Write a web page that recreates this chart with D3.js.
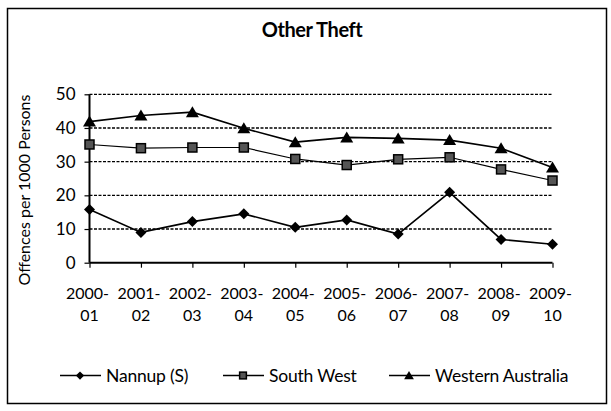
<!DOCTYPE html>
<html>
<head>
<meta charset="utf-8">
<script src="https://cdn.jsdelivr.net/npm/d3@7"></script>
<style>
  body { margin: 0; background: #fff; }
  text { font-family: Lato, "Open Sans", sans-serif; fill: #000; }
</style>
</head>
<body>
<div id="chart"></div>
<script>
var years = ["2000-01", "2001-02", "2002-03", "2003-04", "2004-05", "2005-06", "2006-07", "2007-08", "2008-09", "2009-10"];
var nannup = [15.8, 9.0, 12.2, 14.5, 10.5, 12.7, 8.5, 20.9, 6.9, 5.5];
var southWest = [35.1, 34.0, 34.2, 34.2, 30.8, 29.0, 30.7, 31.3, 27.7, 24.4];
var westernAustralia = [41.9, 43.7, 44.7, 39.9, 35.8, 37.2, 36.9, 36.4, 34.0, 28.3];
var yTicks = [0, 10, 20, 30, 40, 50];
var seriesNames = ["Nannup (S)", "South West", "Western Australia"];

var width = 611, height = 411;

var svg = d3.select("#chart").append("svg")
    .attr("width", width)
    .attr("height", height);

// outer frame
svg.append("rect")
    .attr("x", 7.5).attr("y", 8.5)
    .attr("width", 599).attr("height", 395)
    .attr("fill", "none")
    .attr("stroke", "#000")
    .attr("stroke-width", 1.5);

var x = d3.scalePoint()
    .domain(years)
    .range([89.5, 552.5]);

var y = d3.scaleLinear()
    .domain([0, 50])
    .range([262.7, 94.3]);

// title
svg.append("text")
    .attr("x", 312).attr("y", 37)
    .attr("text-anchor", "middle")
    .style("font-size", "20px")
    .style("font-weight", "bold")
    .style("letter-spacing", "-0.4px")
    .text("Other Theft");

// gridlines
svg.append("g")
    .selectAll("line")
    .data(yTicks.filter(function(d){ return d > 0; }))
    .enter().append("line")
    .attr("x1", 89.5).attr("x2", 553)
    .attr("y1", function(d){ return y(d); })
    .attr("y2", function(d){ return y(d); })
    .attr("stroke", "#000")
    .attr("stroke-width", 1.3)
    .attr("stroke-dasharray", "3,1.5");

// y axis
var yAxis = svg.append("g")
    .attr("transform", "translate(89.5,0)")
    .call(d3.axisLeft(y).tickValues(yTicks).tickSize(5).tickPadding(9));
yAxis.select(".domain").attr("stroke-width", 2).attr("d", "M0," + y(0) + "V" + y(50));
yAxis.selectAll(".tick line").attr("stroke-width", 1.2);
yAxis.selectAll(".tick text")
    .style("font-size", "17px")
    .style("font-family", "Lato, sans-serif")
    .attr("fill", "#000");

// x axis
var xAxis = svg.append("g")
    .attr("transform", "translate(0," + y(0) + ")")
    .call(d3.axisBottom(x).tickSize(5).tickFormat(""));
xAxis.select(".domain").attr("stroke-width", 2).attr("d", "M89.5,0H552.5");
xAxis.selectAll(".tick line").attr("stroke-width", 1.2);

var labels = svg.append("g").selectAll("text")
    .data(years)
    .enter().append("text")
    .attr("x", function(d){ return x(d); })
    .attr("text-anchor", "middle")
    .style("font-size", "16px");
labels.append("tspan")
    .attr("x", function(d){ return x(d) - 2; })
    .attr("y", 299)
    .text(function(d){ return d.slice(0, 5); });
labels.append("tspan")
    .attr("x", function(d){ return x(d); })
    .attr("y", 321)
    .text(function(d){ return d.slice(5); });

// y axis title
svg.append("text")
    .attr("transform", "translate(30,190) rotate(-90)")
    .attr("text-anchor", "middle")
    .style("font-size", "16px")
    .text("Offences per 1000 Persons");

var line = d3.line()
    .x(function(d, i){ return x(years[i]); })
    .y(function(d){ return y(d); });

function diamond(g, cx, cy, k) {
    k = k || 1;
    g.append("path")
        .attr("d", "M" + cx + "," + (cy - 5.5 * k) + "L" + (cx + 5.5 * k) + "," + cy + "L" + cx + "," + (cy + 5.5 * k) + "L" + (cx - 5.5 * k) + "," + cy + "Z")
        .attr("fill", "#000");
}
function square(g, cx, cy, k) {
    k = k || 1;
    g.append("rect")
        .attr("x", cx - 4.5 * k).attr("y", cy - 4.5 * k)
        .attr("width", 9 * k).attr("height", 9 * k)
        .attr("fill", "#555")
        .attr("stroke", "#000")
        .attr("stroke-width", 1.5);
}
function triangle(g, cx, cy, k) {
    k = k || 1;
    g.append("path")
        .attr("d", "M" + cx + "," + (cy - 6 * k) + "L" + (cx + 6.5 * k) + "," + (cy + 5 * k) + "L" + (cx - 6.5 * k) + "," + (cy + 5 * k) + "Z")
        .attr("fill", "#000");
}

var series = [
    {name: seriesNames[0], values: nannup, marker: diamond, w: 1.6},
    {name: seriesNames[1], values: southWest, marker: square, w: 1.2},
    {name: seriesNames[2], values: westernAustralia, marker: triangle, w: 1.6}
];

series.forEach(function(s){
    var g = svg.append("g");
    g.append("path")
        .datum(s.values)
        .attr("d", line)
        .attr("fill", "none")
        .attr("stroke", "#000")
        .attr("stroke-width", s.w);
    s.values.forEach(function(v, i){
        s.marker(g, x(years[i]), y(v));
    });
});

// legend
var legendX = [60, 223, 389];
var legend = svg.append("g");
series.forEach(function(s, i){
    var lx = legendX[i], ly = 375.5;
    legend.append("line")
        .attr("x1", lx).attr("x2", lx + 41)
        .attr("y1", ly).attr("y2", ly)
        .attr("stroke", "#000")
        .attr("stroke-width", 1.6);
    s.marker(legend, lx + 20, ly, 0.75);
    legend.append("text")
        .attr("x", lx + 46).attr("y", ly + 6)
        .style("font-size", "17.5px")
        .style("letter-spacing", "-0.2px")
        .text(s.name);
});
</script>
</body>
</html>
